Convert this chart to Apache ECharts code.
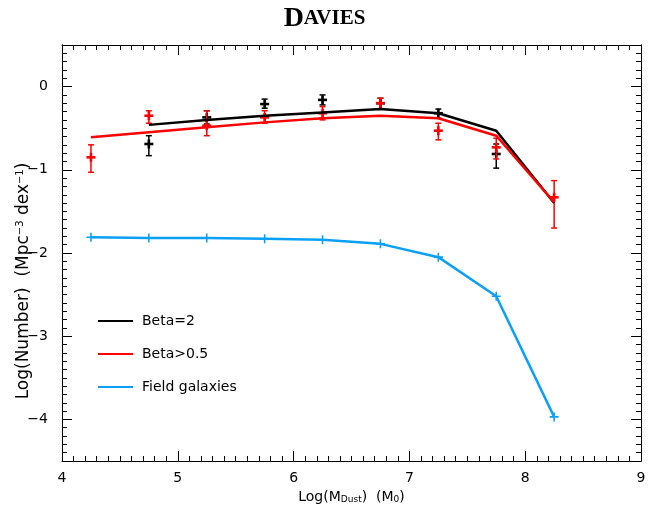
<!DOCTYPE html>
<html><head><meta charset="utf-8">
<script src="https://cdn.jsdelivr.net/npm/echarts@6/dist/echarts.min.js"></script>
<style>html,body{margin:0;padding:0;background:#fff}#c{width:649px;height:511px}</style>
</head><body><div id="c"></div>
<script>
const xBins = [4.25, 4.75, 5.25, 5.75, 6.25, 6.75, 7.25, 7.75, 8.25];
const beta2Model = [null, -0.46, -0.40, -0.35, -0.31, -0.27, -0.32, -0.53, -1.40];
const beta05Model = [-0.61, -0.55, -0.49, -0.43, -0.38, -0.35, -0.38, -0.59, -1.39];
const fieldModel = [-1.81, -1.82, -1.82, -1.83, -1.84, -1.89, -2.05, -2.52, -3.97];
const beta2Obs = [null, -0.69, -0.37, -0.21, -0.16, -0.20, -0.32, -0.81, null];
const beta2Lo  = [null, -0.83, -0.45, -0.26, -0.22, -0.27, -0.38, -0.98, null];
const beta2Hi  = [null, -0.59, -0.29, -0.15, -0.10, -0.14, -0.27, -0.69, null];
const beta05Obs = [-0.85, -0.35, -0.47, -0.37, -0.32, -0.20, -0.53, -0.73, -1.33];
const beta05Lo  = [-1.03, -0.44, -0.59, -0.44, -0.40, -0.27, -0.64, -0.87, -1.70];
const beta05Hi  = [-0.70, -0.29, -0.29, -0.29, -0.24, -0.14, -0.44, -0.62, -1.13];
const xTicks = [4, 5, 6, 7, 8, 9];
const yTicks = [-4, -3, -2, -1, 0];
const seriesNames = ['Beta=2', 'Beta>0.5', 'Field galaxies'];

const pairs = (ys) => xBins.map((x, i) => ys[i] == null ? null : [x, ys[i]]).filter(d => d);
const errData = (obs, lo, hi) => xBins.map((x, i) => obs[i] == null ? null : [x, lo[i], hi[i], obs[i]]).filter(d => d);

function errRender(color) {
  return function (params, api) {
    const x = api.value(0);
    const pLo = api.coord([x, api.value(1)]);
    const pHi = api.coord([x, api.value(2)]);
    const p = api.coord([x, api.value(3)]);
    const cap = 3, arm = 4.5;
    const st = { stroke: color, lineWidth: 1.5 };
    const st2 = { stroke: color, lineWidth: 2.6 };
    return { type: 'group', children: [
      { type: 'line', shape: { x1: pLo[0], y1: pLo[1], x2: pHi[0], y2: pHi[1] }, style: st },
      { type: 'line', shape: { x1: pLo[0] - cap, y1: pLo[1], x2: pLo[0] + cap, y2: pLo[1] }, style: st },
      { type: 'line', shape: { x1: pHi[0] - cap, y1: pHi[1], x2: pHi[0] + cap, y2: pHi[1] }, style: st },
      { type: 'line', shape: { x1: p[0] - arm, y1: p[1], x2: p[0] + arm, y2: p[1] }, style: st2 },
      { type: 'line', shape: { x1: p[0], y1: p[1] - arm, x2: p[0], y2: p[1] + arm }, style: st2 }
    ]};
  };
}

const FONT = 'DejaVu Sans';
const minus = (v) => v < 0 ? '\u2212' + Math.abs(v) : String(v);
const axisLine = { show: true, onZero: false, lineStyle: { color: '#000', width: 1 } };

const chart = echarts.init(document.getElementById('c'));
chart.setOption({
  animation: false,
  backgroundColor: '#fff',
  title: {
    text: '{a|D}{b|AVIES}',
    left: 'center', top: 0,
    textStyle: { rich: {
      a: { fontFamily: 'Liberation Serif', fontSize: 28, color: '#000' },
      b: { fontFamily: 'Liberation Serif', fontSize: 21, color: '#000' }
    }}
  },
  grid: { left: 62, right: 8, top: 45, bottom: 50, outerBoundsMode: 'none', containLabel: false },
  legend: {
    data: seriesNames,
    orient: 'vertical', left: 93, top: 309,
    icon: 'rect', itemWidth: 35, itemHeight: 2, itemGap: 19,
    textStyle: { fontFamily: FONT, fontSize: 14, color: '#000', padding: [0, 0, 0, 4] }
  },
  xAxis: [
    { type: 'value', position: 'bottom', min: 4, max: 9, interval: 1,
      axisLine, splitLine: { show: false },
      axisTick: { inside: true, length: 10, lineStyle: { color: '#000' } },
      minorTick: { show: true, splitNumber: 10, length: 5, lineStyle: { color: '#000' } },
      axisLabel: { fontFamily: FONT, fontSize: 14, color: '#000', margin: 10, formatter: minus },
      name: 'Log(M{s|Dust})  (M{s|0})', nameLocation: 'middle', nameGap: 27,
      nameTextStyle: { fontFamily: FONT, fontSize: 14, color: '#000', rich: {
        s: { fontFamily: FONT, fontSize: 9, color: '#000', verticalAlign: 'bottom', padding: [6, 0, 0, 0] }
      }}
    },
    { type: 'value', position: 'top', min: 4, max: 9, interval: 1,
      axisLine, splitLine: { show: false },
      axisTick: { inside: true, length: 10, lineStyle: { color: '#000' } },
      minorTick: { show: true, splitNumber: 10, length: 5, lineStyle: { color: '#000' } },
      axisLabel: { show: false }
    }
  ],
  yAxis: [
    { type: 'value', position: 'left', min: -4.5, max: 0.5, interval: 0.1,
      axisLine, splitLine: { show: false },
      axisTick: { inside: true, length: 5, lineStyle: { color: '#000' } },
      axisLabel: { show: false }
    },
    { type: 'value', position: 'left', min: -4.5, max: 0.5,
      axisLine, splitLine: { show: false },
      axisTick: { inside: true, length: 10, customValues: yTicks, lineStyle: { color: '#000' } },
      axisLabel: { customValues: yTicks, fontFamily: FONT, fontSize: 14, color: '#000', margin: 14, formatter: minus },
      name: 'Log(Number)  (Mpc{p|\u22123} dex{p|\u22121})', nameLocation: 'middle', nameGap: 30,
      nameMoveOverlap: false,
      nameTextStyle: { fontFamily: FONT, fontSize: 17, color: '#000', padding: [0, 56, 0, 0], rich: {
        p: { fontFamily: FONT, fontSize: 10, color: '#000', verticalAlign: 'top', padding: [0, 0, 7, 0] }
      }}
    },
    { type: 'value', position: 'right', min: -4.5, max: 0.5, interval: 0.1,
      axisLine, splitLine: { show: false },
      axisTick: { inside: true, length: 5, lineStyle: { color: '#000' } },
      axisLabel: { show: false }
    },
    { type: 'value', position: 'right', min: -4.5, max: 0.5,
      axisLine, splitLine: { show: false },
      axisTick: { inside: true, length: 10, customValues: yTicks, lineStyle: { color: '#000' } },
      axisLabel: { show: false }
    }
  ],
  series: [
    { name: 'Beta=2', type: 'line', xAxisIndex: 0, yAxisIndex: 1, data: pairs(beta2Model),
      showSymbol: false, color: '#000', lineStyle: { color: '#000', width: 2.5 } },
    { name: 'Beta=2 obs', type: 'custom', xAxisIndex: 0, yAxisIndex: 1, data: errData(beta2Obs, beta2Lo, beta2Hi),
      encode: { x: 0, y: [1, 2, 3] }, renderItem: errRender('#000'), silent: true },
    { name: 'Beta>0.5', type: 'line', xAxisIndex: 0, yAxisIndex: 1, data: pairs(beta05Model),
      showSymbol: false, color: '#ff0000', lineStyle: { color: '#ff0000', width: 2.5 } },
    { name: 'Beta>0.5 obs', type: 'custom', xAxisIndex: 0, yAxisIndex: 1, data: errData(beta05Obs, beta05Lo, beta05Hi),
      encode: { x: 0, y: [1, 2, 3] }, renderItem: errRender('#ff0000'), silent: true },
    { name: 'Field galaxies', type: 'line', xAxisIndex: 0, yAxisIndex: 1, data: pairs(fieldModel),
      color: '#0aa0f8', lineStyle: { color: '#0aa0f8', width: 2.5 },
      symbol: 'path://M3.3,0h1.4v3.3h3.3v1.4h-3.3v3.3h-1.4v-3.3h-3.3v-1.4h3.3z', symbolSize: 9,
      itemStyle: { color: '#0aa0f8' } }
  ]
});
</script></body></html>
